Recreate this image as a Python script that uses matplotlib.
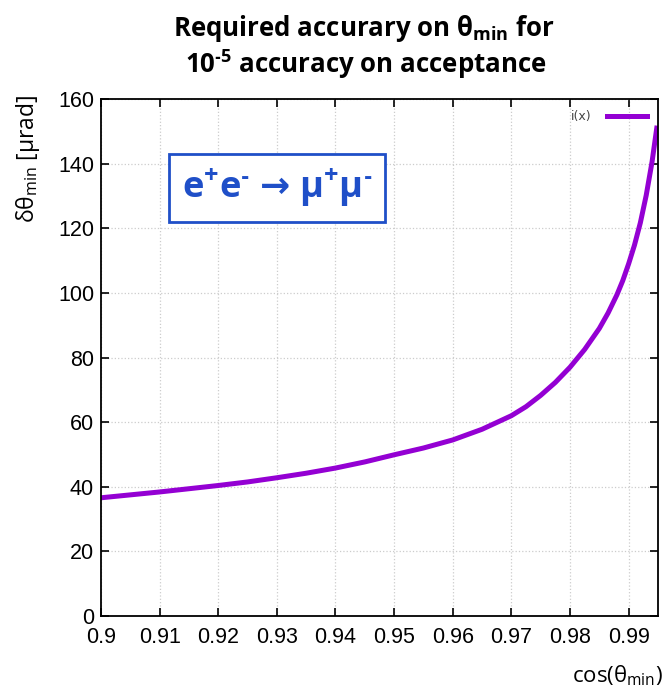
import numpy as np
import matplotlib.pyplot as plt

plt.rcParams['mathtext.fontset'] = 'custom'
plt.rcParams['mathtext.rm'] = 'Open Sans'
plt.rcParams['mathtext.it'] = 'Open Sans:italic'
plt.rcParams['mathtext.bf'] = 'Open Sans:bold'
plt.rcParams['mathtext.sf'] = 'DejaVu Sans:bold'

# values
cos_theta = [0.900, 0.905, 0.910, 0.915, 0.920, 0.925, 0.930, 0.935, 0.940,
             0.945, 0.950, 0.955, 0.960, 0.965, 0.970, 0.9725, 0.975, 0.9775,
             0.980, 0.9825, 0.985, 0.9865, 0.988, 0.989, 0.990, 0.991,
             0.992, 0.993, 0.994, 0.9948]
dtheta = [36.6, 37.5, 38.4, 39.4, 40.4, 41.5, 42.8, 44.2, 45.8,
          47.7, 49.9, 52.0, 54.5, 57.8, 62.0, 64.8, 68.3, 72.3,
          77.0, 82.5, 89.0, 93.8, 99.4, 103.8, 109.0, 114.8,
          121.7, 130.2, 140.6, 151.0]
xticks = [0.9, 0.91, 0.92, 0.93, 0.94, 0.95, 0.96, 0.97, 0.98, 0.99]
xticklabels = ['0.9', '0.91', '0.92', '0.93', '0.94', '0.95', '0.96', '0.97', '0.98', '0.99']
yticks = [0, 20, 40, 60, 80, 100, 120, 140, 160]

fig = plt.figure(figsize=(6.67, 6.87), dpi=100)
ax = fig.add_axes([0.1514, 0.1033, 0.835, 0.7525])

ax.plot(cos_theta, dtheta, color='#9400d3', lw=3.6, label='i(x)')
ax.set_xlim(0.9, 0.995)
ax.set_ylim(0, 160)
ax.set_xticks(xticks)
ax.set_xticklabels(xticklabels)
ax.set_yticks(yticks)
ax.grid(True, color='#cccccc', linestyle=':', lw=0.9)
ax.tick_params(direction='in', length=6, width=1.2, top=True, right=True,
               labelsize=15.5)
ax.tick_params(axis='x', pad=8)
ax.tick_params(axis='y', pad=5)
for lab in ax.get_xticklabels() + ax.get_yticklabels():
    lab.set_family('Liberation Sans')
for s in ax.spines.values():
    s.set_linewidth(1.3)

leg = ax.legend(loc='upper right', frameon=False, markerfirst=False,
                handlelength=3.2, handletextpad=1.2, fontsize=9,
                borderaxespad=0.5)
for t in leg.get_texts():
    t.set_color('#444444')

ax.text(0.316, 0.828,
        r'e$^{\mathbf{+}}$e$^{\mathbf{‐}}$ $\mathsf{→}$ µ$^{\mathbf{+}}$µ$^{\mathbf{‐}}$',
        transform=ax.transAxes, fontsize=26, fontweight='bold', color='#1f4fc8',
        family=['Open Sans', 'DejaVu Sans'], va='center', ha='center',
        bbox=dict(boxstyle='square,pad=0.35', fc='white', ec='#1f4fc8', lw=2))

fig.text(0.546, 0.9476, r'Required accurary on $\mathbf{θ_{min}}$ for',
         ha='center', va='baseline', fontsize=18.6, fontweight='bold', family='Open Sans')
fig.text(0.548, 0.8937, r'10$^{\mathbf{‐5}}$ accuracy on acceptance',
         ha='center', va='baseline', fontsize=18.6, fontweight='bold', family='Open Sans')

fig.text(0.042, 0.768, r'δθ$_{\mathrm{min}}$ [µrad]', rotation=90, ha='center', va='center',
         fontsize=16.5, family=['Open Sans', 'DejaVu Sans'])
fig.text(0.8576, 0.0073, r'cos(θ$_{\mathrm{min}}$)', ha='left', va='baseline',
         fontsize=16, family='Open Sans')

fig.savefig('out.png', dpi=100)
